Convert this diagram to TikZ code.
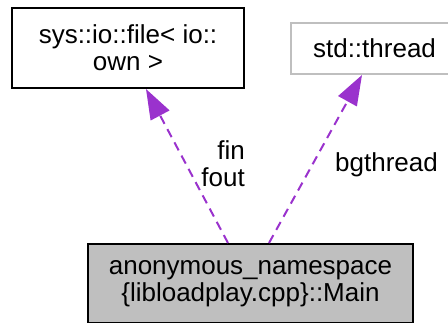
\documentclass[tikz,border=0pt]{standalone}
\usepackage{fontspec}
\setmainfont{Liberation Sans}
\usetikzlibrary{arrows.meta,calc}
\definecolor{edgepurple}{HTML}{9A32CD}
\definecolor{boxgray}{HTML}{BFBFBF}
\begin{document}
\begin{tikzpicture}[x=1pt,y=-1pt,
  every node/.style={font=\fontsize{26}{27}\selectfont, inner sep=0pt},
  classbox/.style={draw=black, line width=2pt, rectangle, align=center},
  extbox/.style={draw=boxgray, line width=2pt, rectangle, align=center},
  mainbox/.style={draw=black, fill=boxgray, line width=2pt, rectangle, align=center},
  usage/.style={draw=edgepurple, line width=2pt, dash pattern=on 9pt off 6pt,
    -{Triangle[length=30pt,width=21pt,fill=edgepurple]}},
  edgelabel/.style={inner sep=0pt}]
  \useasboundingbox (0,0) rectangle (448,322);

  % classes
  \node[classbox, minimum width=232pt, minimum height=80pt] (file) at (128,48)
    {sys::io::file< io::\\own >};
  \node[extbox, minimum width=167pt, minimum height=51pt] (thread) at (374.5,48.5)
    {std::thread};
  \node[mainbox, minimum width=325pt, minimum height=79pt] (main) at (250.5,283.5)
    {anonymous\_namespace\\\{libloadplay.cpp\}::Main};

  % edge end points on the box borders
  \coordinate (finS) at ([xshift=141pt]main.north west);
  \coordinate (finT) at ([xshift=135pt]file.south west);
  \coordinate (bgS) at ([xshift=182pt]main.north west);
  \coordinate (bgT) at ([xshift=72pt]thread.south west);

  % usage relations
  \draw[usage] (finS) -- (finT);
  \draw[usage] (bgS) -- (bgT);

  % member names
  \node[edgelabel, anchor=east, align=right] (finlbl) at (245,164) {fin\\fout};
  \node[edgelabel, anchor=west] (bglbl) at (335,165) {bgthread};
\end{tikzpicture}
\end{document}
